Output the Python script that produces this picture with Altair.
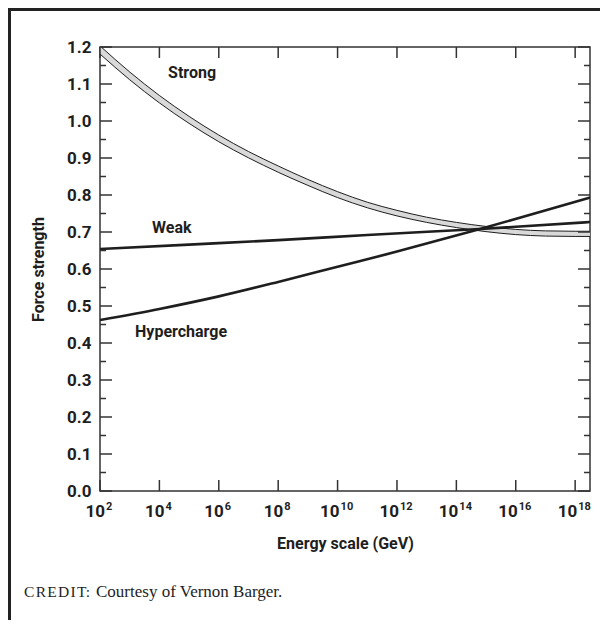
import altair as alt
import pandas as pd

# ---- data (x given as exponent of energy in GeV: E = 10**exp) ----
strong_exp = [2, 3, 4, 5, 6, 7, 8, 9, 10, 11, 12, 13, 14, 15, 16, 17, 18, 18.5]
strong_val = [1.192, 1.122, 1.059, 1.003, 0.953, 0.909, 0.870, 0.834, 0.801,
              0.773, 0.751, 0.733, 0.719, 0.708, 0.700, 0.696, 0.695, 0.695]
strong_half = [0.011, 0.0105, 0.010, 0.0095, 0.009, 0.0085, 0.0085, 0.008, 0.008,
               0.0075, 0.0075, 0.007, 0.007, 0.007, 0.007, 0.007, 0.007, 0.007]

weak_exp = [2, 5, 8, 11, 14.8, 18.5]
weak_val = [0.654, 0.666, 0.678, 0.692, 0.708, 0.727]

hyper_exp = [2, 4, 6, 8, 10, 12, 14.8, 18.5]
hyper_val = [0.462, 0.492, 0.526, 0.565, 0.606, 0.647, 0.708, 0.793]

x_tick_exp = [2, 4, 6, 8, 10, 12, 14, 16, 18]
y_major = [round(0.1 * i, 1) for i in range(13)]
y_minor = [round(0.05 + 0.1 * i, 2) for i in range(12)]

label_text = ["Strong", "Weak", "Hypercharge"]
label_exp = [5.1, 4.42, 4.73]
label_val = [1.13, 0.711, 0.43]

credit_small = "C\u200aR\u200aE\u200aD\u200aI\u200aT:"
credit_text = "Courtesy of Vernon Barger."

# ---- styling ----
SANS = "Roboto, Liberation Sans, sans-serif"
SERIF = "Liberation Serif, Times New Roman, serif"
INK = "#1e1e1e"
W, H = 490, 444

strong = pd.DataFrame({"exp": strong_exp, "v": strong_val, "h": strong_half})
strong["E"] = 10.0 ** strong["exp"]
strong["lo"] = strong["v"] - strong["h"]
strong["hi"] = strong["v"] + strong["h"]
weak = pd.DataFrame({"E": [10.0 ** e for e in weak_exp], "v": weak_val})
hyper = pd.DataFrame({"E": [10.0 ** e for e in hyper_exp], "v": hyper_val})
xt = pd.DataFrame({"exp": x_tick_exp})
xt["E"] = 10.0 ** xt["exp"]
xt["sup"] = xt["exp"].astype(str)
ymaj = pd.DataFrame({"v": y_major})
ymin = pd.DataFrame({"v": y_minor})
labs = pd.DataFrame({"t": label_text, "E": [10.0 ** e for e in label_exp], "v": label_val})
dummy = pd.DataFrame({"a": [0]})

xscale = alt.Scale(type="log", domain=[1e2, 10 ** 18.5], nice=False)
yscale = alt.Scale(domain=[0, 1.2], nice=False, zero=False)

xaxis = alt.Axis(labels=False, ticks=False, tickSize=0, domain=False, grid=False,
                 title="Energy scale (GeV)", titlePadding=44, titleFont=SANS,
                 titleFontSize=16, titleFontWeight="bold", titleColor=INK)
yaxis = alt.Axis(values=y_major, format=".1f", ticks=False, tickSize=0, domain=False,
                 grid=False, labelFont=SANS, labelFontSize=17, labelFontWeight="bold",
                 labelColor=INK, labelPadding=9, title="Force strength", titlePadding=20,
                 titleFont=SANS, titleFontSize=16, titleFontWeight="bold", titleColor=INK)


def X(f="E"):
    return alt.X(f"{f}:Q", scale=xscale, axis=xaxis)


def Y(f="v"):
    return alt.Y(f"{f}:Q", scale=yscale, axis=yaxis)


band = alt.Chart(strong).mark_area(fill="#d9d9d9", interpolate="monotone", clip=True).encode(
    x=X(), y=Y("lo"), y2="hi:Q")
edge_lo = alt.Chart(strong).mark_line(color=INK, strokeWidth=1, interpolate="monotone", clip=True).encode(x=X(), y=Y("lo"))
edge_hi = alt.Chart(strong).mark_line(color=INK, strokeWidth=1, interpolate="monotone", clip=True).encode(x=X(), y=Y("hi"))
weak_line = alt.Chart(weak).mark_line(color=INK, strokeWidth=2.6, interpolate="monotone", clip=True).encode(x=X(), y=Y())
hyper_line = alt.Chart(hyper).mark_line(color=INK, strokeWidth=2.6, interpolate="monotone", clip=True).encode(x=X(), y=Y())

tick_style = dict(color="#333", strokeWidth=1.5)
bt = alt.Chart(xt).mark_rule(**tick_style).encode(x=X(), y=alt.value(H), y2=alt.value(H - 11))
tt = alt.Chart(xt).mark_rule(**tick_style).encode(x=X(), y=alt.value(0), y2=alt.value(11))
lmaj = alt.Chart(ymaj).mark_rule(**tick_style).encode(y=Y(), x=alt.value(0), x2=alt.value(12))
lmin = alt.Chart(ymin).mark_rule(**tick_style).encode(y=Y(), x=alt.value(0), x2=alt.value(6))
rmaj = alt.Chart(ymaj).mark_rule(**tick_style).encode(y=Y(), x=alt.value(W), x2=alt.value(W - 12))
rmin = alt.Chart(ymin).mark_rule(**tick_style).encode(y=Y(), x=alt.value(W), x2=alt.value(W - 6))


def xlabels(df, base_dx, sup_dx):
    b = alt.Chart(df).mark_text(text="10", align="right", baseline="alphabetic", dx=base_dx,
                                font=SANS, fontSize=17, fontWeight="bold", color=INK).encode(
        x=X(), y=alt.value(H + 26))
    s = alt.Chart(df).mark_text(align="left", baseline="alphabetic", dx=sup_dx,
                                font=SANS, fontSize=11, fontWeight="bold", color=INK).encode(
        x=X(), y=alt.value(H + 19), text="sup:N")
    return b + s


xl1 = xlabels(xt[xt["exp"] < 10], 5, 6)
xl2 = xlabels(xt[xt["exp"] >= 10], 2, 3)

ann = alt.Chart(labs).mark_text(font=SANS, fontSize=16, fontWeight="bold", color=INK,
                                align="center", baseline="middle").encode(x=X(), y=Y(), text="t:N")

border_l = alt.Chart(dummy).mark_rule(color="#222", strokeWidth=3).encode(
    x=alt.value(-90.5), y=alt.value(-40), y2=alt.value(H + 130))
border_t = alt.Chart(dummy).mark_rule(color="#222", strokeWidth=3).encode(
    y=alt.value(-37.5), x=alt.value(-92), x2=alt.value(W + 12))

credit1 = alt.Chart(dummy).mark_text(text=credit_small, font=SERIF, fontSize=15.5, color=INK,
                                     align="left", baseline="alphabetic").encode(
    x=alt.value(-76), y=alt.value(550))
credit2 = alt.Chart(dummy).mark_text(text=credit_text, font=SERIF, fontSize=17, color=INK,
                                     align="left", baseline="alphabetic").encode(
    x=alt.value(-4), y=alt.value(550))

chart = alt.layer(
    band, edge_lo, edge_hi, weak_line, hyper_line,
    bt, tt, lmaj, lmin, rmaj, rmin, xl1, xl2, ann,
    border_l, border_t, credit1, credit2,
).properties(
    width=W, height=H,
    autosize=alt.AutoSizeParams(type="none"),
    padding={"left": 92, "top": 39, "right": 10, "bottom": 129},
    background="white",
).configure_view(stroke="#333", strokeWidth=1.5)

chart.save("out.html", embed_options={"renderer": "svg", "actions": False})
